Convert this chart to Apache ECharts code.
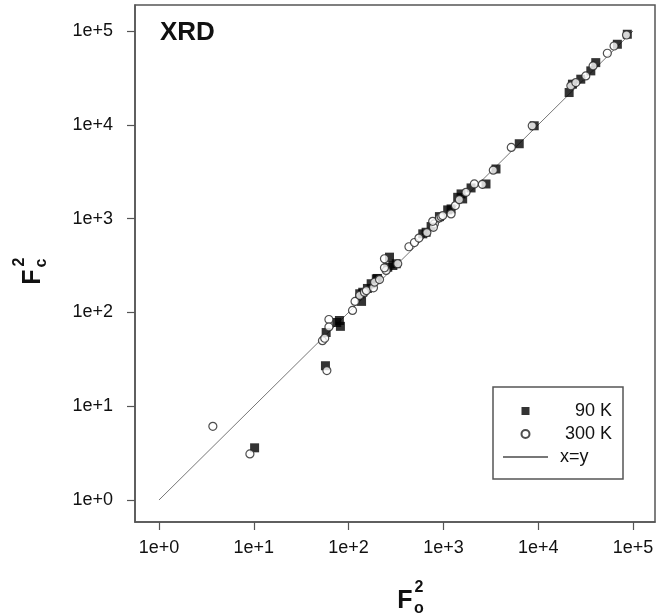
<!DOCTYPE html>
<html>
<head>
<meta charset="utf-8">
<script src="https://cdn.jsdelivr.net/npm/echarts@6/dist/echarts.min.js"></script>
<style>
  html, body { margin: 0; padding: 0; background: #fff; }
  #main { width: 668px; height: 615px; }
</style>
</head>
<body>
<div id="main"></div>
<script>
// F_o^2 / F_c^2 for the 90 K data set (filled squares)
var fo90 = [10.2, 57, 58, 75, 82, 80, 137, 131, 141, 158, 173, 202, 196, 270, 259, 293, 318,
  606, 657, 742, 908, 1110, 1205, 1415, 1536, 1597, 1958, 2814, 3588, 6310, 9080,
  21200, 22960, 28130, 35890, 40480, 68400, 87100];
var fc90 = [3.6, 27, 61, 78, 71, 82, 131, 158, 164, 180, 202, 230, 228, 388, 303, 316, 330,
  688, 715, 822, 1050, 1238, 1268, 1686, 1832, 1621, 2122, 2339, 3380, 6280, 9760,
  22070, 27100, 30630, 37550, 46000, 72200, 92300];

// 300 K data set (open circles)
var fo300 = [3.7, 9.1, 59, 53, 56, 62, 62, 110, 117, 131, 147, 154, 183, 188, 212, 239, 249, 239,
  330, 433, 495, 552, 670, 804, 785, 771, 908, 946, 984, 1205, 1337, 1473, 1734, 2120, 2574,
  3360, 5200, 8650, 22100, 24940, 31770, 37930, 53600, 63100, 85400];
var fc300 = [6.1, 3.1, 24, 50, 53, 84, 70, 105, 131, 152, 164, 171, 183, 210, 224, 373, 280, 299,
  330, 501, 556, 620, 710, 879, 808, 936, 1017, 1050, 1077, 1122, 1375, 1592, 1905, 2339, 2317,
  3280, 5740, 9760, 26000, 28200, 33200, 42450, 57900, 69200, 90650];

// x=y reference line
var lineFo = [1, 100000];
var lineFc = [1, 100000];

var tickValues = [1, 10, 100, 1000, 10000, 100000];

function pairs(xs, ys) {
  return xs.map(function (x, i) { return [x, ys[i]]; });
}
function sciLabel(v) {
  return '1e+' + Math.round(Math.log10(v));
}

var chart = echarts.init(document.getElementById('main'));
var axisColor = '#555';
var font = 'Liberation Sans, Arial, sans-serif';

chart.setOption({
  animation: false,
  backgroundColor: '#fff',
  grid: {
    left: 135, top: 5, right: 13, bottom: 93,
    show: true, borderColor: axisColor, borderWidth: 1.5
  },
  xAxis: {
    type: 'log',
    min: Math.pow(10, -0.253),
    max: Math.pow(10, 5.232),
    axisLine: { show: true, lineStyle: { color: axisColor, width: 1.5 } },
    axisTick: { show: true, length: 8, customValues: tickValues, lineStyle: { color: axisColor, width: 1.2 } },
    axisLabel: { customValues: tickValues, formatter: sciLabel, margin: 17, color: '#111', fontSize: 18, fontFamily: font },
    splitLine: { show: false },
    minorTick: { show: false }
  },
  yAxis: {
    type: 'log',
    min: Math.pow(10, -0.2345),
    max: Math.pow(10, 5.277),
    axisLine: { show: true, lineStyle: { color: axisColor, width: 1.5 } },
    axisTick: { show: true, length: 8, customValues: tickValues, lineStyle: { color: axisColor, width: 1.2 } },
    axisLabel: { customValues: tickValues, formatter: sciLabel, margin: 22, color: '#111', fontSize: 18, fontFamily: font },
    splitLine: { show: false }
  },
  legend: {
    orient: 'vertical',
    left: 493, top: 387,
    padding: [15, 11, 13, 9],
    itemGap: 5,
    itemWidth: 45, itemHeight: 8,
    symbolKeepAspect: true,
    borderColor: axisColor, borderWidth: 1.5,
    data: [
      { name: '90 K', icon: 'path://M0,0L10,0L10,10L0,10Z', itemStyle: { color: '#000' } },
      { name: '300 K', icon: 'circle' },
      { name: 'x=y', itemStyle: { color: 'rgba(0,0,0,0)', borderWidth: 0 } }
    ],
    formatter: function (name) {
      return name === 'x=y' ? '{l|' + name + '}' : '{r|' + name + '}';
    },
    textStyle: {
      color: '#111', fontSize: 18, fontFamily: font,
      rich: {
        r: { width: 59, align: 'right', fontSize: 18, fontFamily: font, color: '#111' },
        l: { padding: [0, 0, 0, 7], fontSize: 18, fontFamily: font, color: '#111' }
      }
    }
  },
  graphic: [
    { type: 'text', x: 160, y: 33, style: { text: 'XRD', fontSize: 26, fontWeight: 'bold', fontFamily: font, fill: '#111', verticalAlign: 'middle' } },
    { type: 'group', x: 405, y: 601, children: [
      { type: 'text', x: 0, y: 0, style: { text: 'F', fontSize: 25, fontWeight: 'bold', fontFamily: font, fill: '#111', align: 'center', verticalAlign: 'middle' } },
      { type: 'text', x: 14, y: 8, style: { text: 'o', fontSize: 16, fontWeight: 'bold', fontFamily: font, fill: '#111', align: 'center', verticalAlign: 'middle' } },
      { type: 'text', x: 14, y: -13, style: { text: '2', fontSize: 16, fontWeight: 'bold', fontFamily: font, fill: '#111', align: 'center', verticalAlign: 'middle' } }
    ] },
    { type: 'group', x: 33, y: 277, rotation: Math.PI / 2, children: [
      { type: 'text', x: 0, y: 0, style: { text: 'F', fontSize: 25, fontWeight: 'bold', fontFamily: font, fill: '#111', align: 'center', verticalAlign: 'middle' } },
      { type: 'text', x: 14, y: 9, style: { text: 'c', fontSize: 16, fontWeight: 'bold', fontFamily: font, fill: '#111', align: 'center', verticalAlign: 'middle' } },
      { type: 'text', x: 15, y: -13, style: { text: '2', fontSize: 16, fontWeight: 'bold', fontFamily: font, fill: '#111', align: 'center', verticalAlign: 'middle' } }
    ] }
  ],
  series: [
    {
      name: 'x=y',
      type: 'line',
      data: pairs(lineFo, lineFc),
      symbol: 'none',
      itemStyle: { color: '#777' },
      lineStyle: { color: '#777', width: 1 },
      z: 1
    },
    {
      name: '90 K',
      type: 'scatter',
      data: pairs(fo90, fc90),
      symbol: 'rect',
      symbolSize: 9,
      itemStyle: { color: '#000' },
      z: 2
    },
    {
      name: '300 K',
      type: 'scatter',
      data: pairs(fo300, fc300),
      symbol: 'circle',
      symbolSize: 8,
      itemStyle: { color: '#fff', borderColor: '#222', borderWidth: 1.2 },
      z: 3
    }
  ]
});
</script>
</body>
</html>
